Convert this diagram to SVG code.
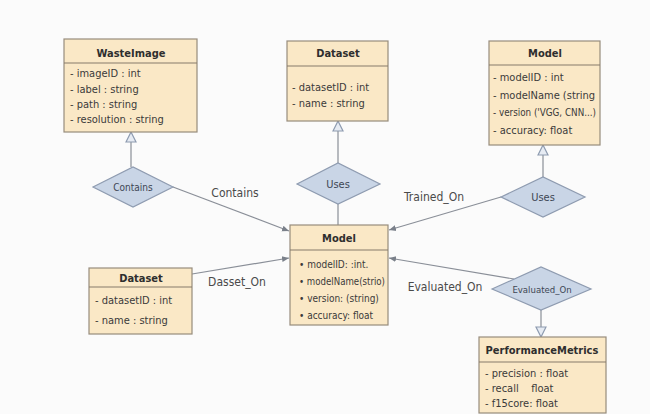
<svg xmlns="http://www.w3.org/2000/svg" width="650" height="414" viewBox="0 0 650 414">
<style>
.box{fill:#fae8c6;stroke:#978c7c;stroke-width:1.2}
.div{stroke:#857a6a;stroke-width:1.2}
.title{font-family:"DejaVu Sans Condensed","DejaVu Sans",sans-serif;font-weight:bold;font-size:11px;fill:#2e2e2e;text-anchor:middle}
.row{font-family:"DejaVu Sans Condensed","DejaVu Sans",sans-serif;font-size:11px;fill:#3a3a3a}
.crow{font-family:"DejaVu Sans Condensed","DejaVu Sans",sans-serif;font-size:10px;fill:#3a3a3a}
.dia{fill:#c9d5e6;stroke:#8e9bb0;stroke-width:1.2}
.dlab{font-family:"DejaVu Sans Condensed","DejaVu Sans",sans-serif;font-size:10px;fill:#3d4654;text-anchor:middle}
.lab{font-family:"DejaVu Sans Condensed","DejaVu Sans",sans-serif;font-size:12px;fill:#4a4a4a;text-anchor:middle}
.ln{stroke:#8a8f98;stroke-width:1.2;fill:none}
</style>
<defs>
<marker id="gen" markerWidth="12" markerHeight="12" refX="10" refY="5" orient="auto" markerUnits="userSpaceOnUse" viewBox="-1 -1 12 12">
<path d="M0,0 L10,5 L0,10 z" fill="#e6ebf3" stroke="#8e9bb0" stroke-width="1.2"/>
</marker>
<marker id="arr" markerWidth="8" markerHeight="8" refX="7" refY="3" orient="auto" markerUnits="userSpaceOnUse" viewBox="0 0 8 6">
<path d="M0,0 L7,3 L0,6 z" fill="#7a808a"/>
</marker>
</defs>
<rect width="650" height="414" fill="#fbfbfb"/>

<g id="connectors">
<line class="ln" x1="131" y1="167" x2="131" y2="132" marker-end="url(#gen)"/>
<line class="ln" x1="338" y1="163" x2="338" y2="121" marker-end="url(#gen)"/>
<line class="ln" x1="543" y1="177" x2="543" y2="145" marker-end="url(#gen)"/>
<line class="ln" x1="541" y1="310" x2="541" y2="337" marker-end="url(#gen)"/>
<line class="ln" x1="338" y1="204" x2="338" y2="225"/>
<line class="ln" x1="173" y1="187" x2="289" y2="231" marker-end="url(#arr)"/>
<line class="ln" x1="501" y1="197" x2="389" y2="230" marker-end="url(#arr)"/>
<line class="ln" x1="192" y1="274" x2="289" y2="258" marker-end="url(#arr)"/>
<line class="ln" x1="514" y1="279" x2="389" y2="258" marker-end="url(#arr)"/>
<text class="lab" x="235" y="197">Contains</text>
<text class="lab" x="434" y="201">Trained_On</text>
<text class="lab" x="237" y="286">Dasset_On</text>
<text class="lab" x="445" y="291">Evaluated_On</text>
</g>

<g id="wasteimage">
<rect class="box" x="64" y="39" width="133" height="93"/>
<line class="div" x1="64" y1="63" x2="197" y2="63"/>
<text class="title" x="131" y="57">WasteImage</text>
<text class="row" x="70" y="77">- imageID : int</text>
<text class="row" x="70" y="93">- label : string</text>
<text class="row" x="70" y="108">- path : string</text>
<text class="row" x="70" y="123">- resolution : string</text>
</g>

<g id="dataset-top">
<rect class="box" x="287" y="41" width="101" height="80"/>
<line class="div" x1="287" y1="66" x2="388" y2="66"/>
<text class="title" x="338" y="57">Dataset</text>
<text class="row" x="292" y="91">- datasetID : int</text>
<text class="row" x="292" y="107">- name : string</text>
</g>

<g id="model-top">
<rect class="box" x="489" y="41" width="111" height="104"/>
<line class="div" x1="489" y1="65" x2="600" y2="65"/>
<text class="title" x="545" y="57">Model</text>
<text class="row" x="493" y="81">- modelID : int</text>
<text class="row" x="493" y="99">- modelName (string</text>
<text class="row" x="493" y="116" textLength="103" lengthAdjust="spacingAndGlyphs">- version ('VGG, CNN...)</text>
<text class="row" x="493" y="134">- accuracy: float</text>
</g>

<g id="model-center">
<rect class="box" x="290" y="225" width="98" height="100"/>
<line class="div" x1="290" y1="250" x2="388" y2="250"/>
<text class="title" x="339" y="242">Model</text>
<text class="crow" x="299" y="268">• modelID: :int.</text>
<text class="crow" x="299" y="285" textLength="86" lengthAdjust="spacingAndGlyphs">• modelName(strio)</text>
<text class="crow" x="299" y="302">• version: (string)</text>
<text class="crow" x="299" y="319">• accuracy: float</text>
</g>

<g id="dataset-left">
<rect class="box" x="89" y="268" width="103" height="66"/>
<line class="div" x1="89" y1="287" x2="192" y2="287"/>
<text class="title" x="141" y="282">Dataset</text>
<text class="row" x="95" y="304">- datasetID : int</text>
<text class="row" x="95" y="324">- name : string</text>
</g>

<g id="performancemetrics">
<rect class="box" x="479" y="337" width="127" height="76"/>
<line class="div" x1="479" y1="362" x2="606" y2="362"/>
<text class="title" x="542" y="354">PerformanceMetrics</text>
<text class="row" x="485" y="377">- precision : float</text>
<text class="row" x="485" y="392" xml:space="preserve" style="white-space:pre">- recall    float</text>
<text class="row" x="485" y="407">- f15core: float</text>
</g>

<g id="contains">
<polygon class="dia" points="93,187 133,167 173,187 133,207"/>
<text class="dlab" x="133" y="190.5">Contains</text>
</g>

<g id="uses-center">
<polygon class="dia" points="297,184 338,163 380,184 338,204"/>
<text class="dlab" x="338" y="188" style="font-size:11px">Uses</text>
</g>

<g id="uses-right">
<polygon class="dia" points="501,197 543,177 585,197 543,217"/>
<text class="dlab" x="543" y="201" style="font-size:11px">Uses</text>
</g>

<g id="evaluated-on">
<polygon class="dia" points="492,289 541,267 591,289 541,310"/>
<text class="dlab" x="542" y="292.5" style="font-size:9.5px">Evaluated_On</text>
</g>
</svg>
